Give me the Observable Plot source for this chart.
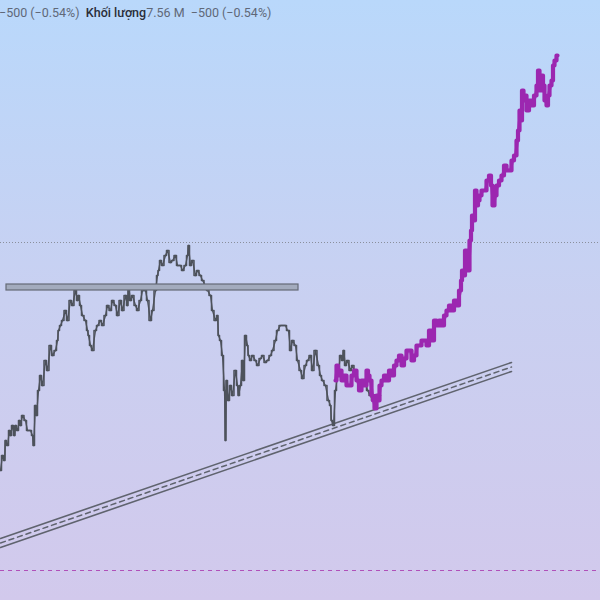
<!DOCTYPE html>
<html><head><meta charset="utf-8">
<script src="https://cdn.jsdelivr.net/npm/d3@7"></script>
<script src="https://cdn.jsdelivr.net/npm/@observablehq/plot@0.6"></script>
<style>
html,body{margin:0;padding:0;}
#wrap{position:relative;width:600px;height:600px;background:linear-gradient(#b9d8fb,#c9d0f1 50%,#d2c9ec);overflow:hidden;}
#hdr{position:absolute;left:-1px;top:5px;font-family:Roboto,"Noto Sans",sans-serif;font-size:12.5px;color:#606878;white-space:nowrap;}
#hdr b{color:#2a2e39;font-weight:500;}
svg{background:transparent!important;}
</style></head>
<body><div id="wrap"><div id="hdr">−500 (−0.54%)&nbsp; <b>Khối lượng</b>7.56 M&nbsp; −500 (−0.54%)</div></div>
<script>
const grayX = [0,2,4,5,7,9,10,12,14,15,17,19,20,22,25,27,30,32,33,35,36,38,40,42,45,47,50,52,55,57,58,60,62,65,67,70,72,75,77,78,80,82,85,87,88,90,92,95,97,100,102,105,107,110,112,115,117,120,122,125,127,128,130,132,135,137,140,142,145,147,150,152,155,157,158,160,162,165,167,170,172,175,177,180,182,185,187,188,190,192,195,197,200,202,205,207,210,212,215,217,218,220,222,224,225,226,228,230,232,235,237,238,240,242,243,245,247,248,250,252,255,257,260,262,265,267,270,272,275,277,280,282,285,287,288,290,292,295,297,300,302,305,307,310,312,315,318,320,322,325,328,330,331,333,335,337,338,340,342,343,345,347,350,352,355,357,360,362,365,367,370,372,375,377,380];
const grayP = [26,29,28,32,31,34,33,35,33,35,34,36,35,37,36,34,34,33,31,39,37,42,45,43,48,46,51,49,50,52,54,55,56,58,56,60,59,62,60,61,59,57,56,54,53,51,50,54,55,56,55,57,59,58,60,59,57,60,58,61,59,63,60,61,59,58,60,62,62,60,56,58,62,65,66,68,67,69,70,67.6,68,69,67,67,66,67,69,71,67,68,65,66,65,64,63,62,61,58,56,57,53,52,49,42,32,44,40,43,41,46,43,41,43,48,44,53,51,49,48,49,48,47,48.4,49,47.6,48,49,50,52,54,55,55,55,54,54,50,52,51,48,46,44.4,47,48,49,46,50,47,45,44,43,40,39,36,35,42,45,46,49,48,50,47,48,46,47,45,44,43,44,44,42,41,40,39,40,41];
const purpX = [335,337,338,340,342,345,347,350,352,355,357,360,362,365,367,368,370,372,373,375,377,378,380,382,385,387,390,392,395,397,400,402,405,407,410,412,415,417,420,422,425,427,430,432,435,437,440,442,445,447,450,452,455,457,460,461,462,464,465,467,468,470,471,472,474,475,477,478,480,482,485,487,490,491,493,495,497,500,502,505,507,510,512,515,517,518,520,521,522,524,525,527,530,532,535,537,538,540,542,543,545,547,548,550,552,553,555,557];
const purpP = [44,47,45,46,44,45,43,43,45,46,44,42,44,43,46,45,44,41,40,38.4,41,40,43,44,45,44,46,45,47,48,49,47,48.4,50,50,48,49,51,51,52,52,51,54,52,56,55,56,55,57,58,59,58,60,59,62,64,66,65,70,69,66,72,74,77,76,82,79,80,81,82,82,84,85,83,79,81,83,84,85,87,86,86,88,89,92,94,98,96,102,100,101,98,100,99,101,103,106,102,105,103,100,99,101,103,104,107,108,109];
const rectX = [6, 298];
const rectP = [62, 63.2];
const chanX = [0, 511];
const chanTop = [12.4, 47.6];
const chanMid = [11.5, 46.7];
const chanBot = [10.6, 45.8];
const dottedLevel = 71.6;
const dashedLevel = 6;

const gray = grayX.map((x,i)=>({x, p: grayP[i]}));
const purp = purpX.map((x,i)=>({x, p: purpP[i]}));
const chan = (arr)=>chanX.map((x,i)=>({x, p: arr[i]}));

const chart = Plot.plot({
  width: 600, height: 600,
  margin: 0,
  x: {domain: [0, 600], axis: null},
  y: {domain: [0, 120], axis: null},
  style: {background: "transparent"},
  marks: [
    Plot.ruleY([dottedLevel], {stroke: "#8a8f9c", strokeWidth: 1, strokeDasharray: "1,2"}),
    Plot.ruleY([dashedLevel], {stroke: "#b050b8", strokeWidth: 1, strokeDasharray: "4,4"}),
    Plot.line(chan(chanTop), {x: "x", y: "p", stroke: "#5f636e", strokeWidth: 1.6}),
    Plot.line(chan(chanMid), {x: "x", y: "p", stroke: "#5f636e", strokeWidth: 1.5, strokeDasharray: "5,4"}),
    Plot.line(chan(chanBot), {x: "x", y: "p", stroke: "#5f636e", strokeWidth: 1.6}),
    Plot.line(gray, {x: "x", y: "p", stroke: "#4d525b", strokeWidth: 1.3}),
    Plot.line(gray, {x: "x", y: "p", stroke: "#4d525b", strokeWidth: 1.5, curve: "step"}),
    Plot.rect([{x1: rectX[0], x2: rectX[1], y1: rectP[0], y2: rectP[1]}], {x1: "x1", x2: "x2", y1: "y1", y2: "y2", fill: "#a3abbd", stroke: "#656a76", strokeWidth: 1.2}),
    Plot.line(purp, {x: "x", y: "p", stroke: "#9c27b0", strokeWidth: 3, strokeOpacity: 0.9}),
    Plot.line(purp, {x: "x", y: "p", stroke: "#9c27b0", strokeWidth: 4.2, curve: "step"})
  ]
});
document.getElementById("wrap").appendChild(chart);
</script>
</body></html>
